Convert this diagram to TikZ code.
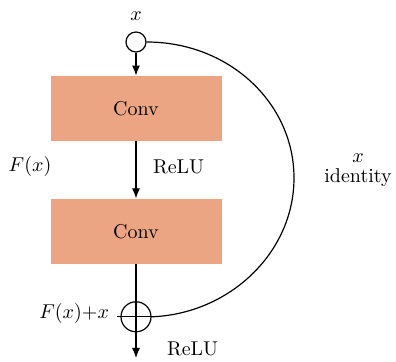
\documentclass[tikz,border=0pt]{standalone}
\usepackage{tikz}
\usetikzlibrary{
    positioning,
    arrows.meta
}
\definecolor{ConvOrange}{RGB}{235,165,130}

\begin{document}
\begin{tikzpicture}[
    x=0.5pt, y=-0.5pt,
    convbox/.style={rectangle, minimum width=85.5pt, minimum height=32.5pt, align=center, fill=ConvOrange, font=\normalsize},
    node distance=11.5pt,
    arrow/.style={-{Latex[length=5pt, width=4pt]}, semithick},
    link/.style={semithick}
]
\useasboundingbox (0,0) rectangle (396,362);
\node[circle, draw, semithick, minimum size=10pt, inner sep=0pt] (input) at (136,42) {};
\node[above=2pt of input] (xin) {$x$};
\node[convbox, below=11.5pt of input] (conv1) {Conv};
\node[convbox, below=28.5pt of conv1] (conv2) {Conv};
\node[circle, draw, semithick, minimum size=15pt, inner sep=0pt, below=18.5pt of conv2] (add) {};
\coordinate (out) at (136,358);
\coordinate (addleft) at ([xshift=-1.5pt]add.west);

\draw[arrow] (input) -- (conv1);
\draw[arrow] (conv1) -- (conv2);
\draw[arrow] (conv2) -- (out);
\draw[link] (addleft) -- (add.east);
\draw[link] (input.east) .. controls (229,42) and (294,103) .. (294,178)
    .. controls (294,253) and (229,314) .. (add.east);

\node at (30,167) (fx) {$F(x)$};
\node[anchor=west] at (146,167) (relu1) {ReLU};
\node[align=center] at (358,170) (ident) {$x$\\[-2pt]identity};
\node[anchor=east] at (116,314) (sum) {$F(x){+}x$};
\node[anchor=west] at (160,349) (relu2) {ReLU};
\end{tikzpicture}
\end{document}
